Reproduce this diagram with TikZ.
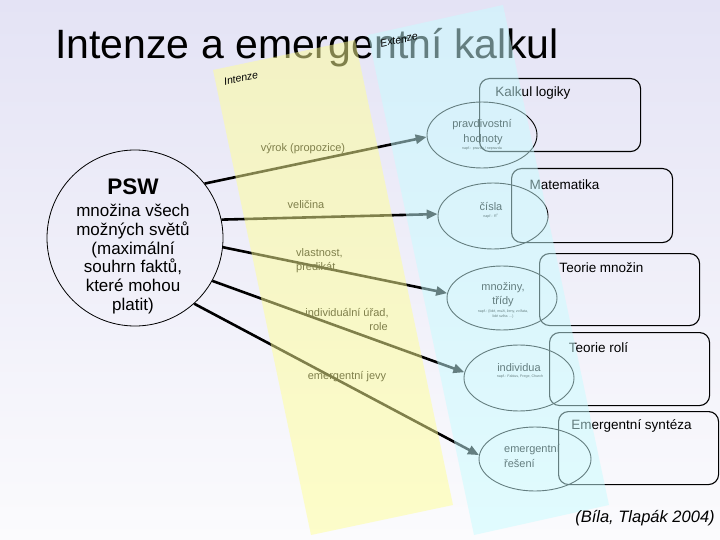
\documentclass[tikz,border=0pt]{standalone}
\usepackage{fontspec}
\setmainfont{Liberation Sans}
\usetikzlibrary{arrows.meta,shapes.geometric}
\definecolor{bgtop}{RGB}{228,227,245}
\definecolor{bgbot}{RGB}{251,251,253}
\definecolor{bandY}{RGB}{255,255,150}
\definecolor{bandC}{RGB}{200,252,255}
\begin{document}
\begin{tikzpicture}[x=1pt,y=-1pt,
  boxn/.style={draw=black, line width=1.1pt, rounded corners=10pt, anchor=north west, inner sep=0pt},
  ell/.style={ellipse, draw=black, line width=0.9pt, inner sep=0pt},
  arr/.style={line width=2.6pt, -{Triangle[length=11pt,width=9pt]}},
  lab/.style={font=\fontsize{11}{13}\selectfont, inner sep=0pt},
  elab/.style={font=\fontsize{11}{13}\selectfont, inner sep=0pt},
  tiny/.style={font=\fontsize{3.6}{4.2}\selectfont, inner sep=0pt, align=center},
  blab/.style={font=\fontsize{13.5}{15}\selectfont, inner sep=0pt},
  band/.style={fill opacity=0.5}]
\useasboundingbox (0,0) rectangle (720,540);
\shade[top color=bgtop, bottom color=bgbot] (0,0) rectangle (720,540);

% title
\node[anchor=base west, inner sep=0pt] (title) at (55,59) {\fontsize{41}{45}\selectfont Intenze a emergentní kalkul};

% PSW circle
\node[circle, draw=black, line width=0.8pt, minimum size=176pt, inner sep=0pt] (psw) at (135,238) {};
\node[font=\fontsize{22.5}{24}\selectfont\bfseries, inner sep=0pt] (pswt) at (133,187) {PSW};
\node[align=center, font=\fontsize{17}{18.8}\selectfont, inner sep=0pt] (pswtxt) at (133,259) {množina všech\\možných světů\\(maximální\\souhrn faktů,\\které mohou\\platit)};

% boxes
\node[boxn, minimum width=161pt, minimum height=73pt] (b1) at (479,78) {};
\node[boxn, minimum width=161pt, minimum height=74pt] (b2) at (511,168) {};
\node[boxn, minimum width=160pt, minimum height=72pt] (b3) at (539,253) {};
\node[boxn, minimum width=160pt, minimum height=73pt] (b4) at (549,332) {};
\node[boxn, minimum width=160pt, minimum height=73pt] (b5) at (558,411) {};
\node[blab] (b1t) at (533,93) {Kalkul logiky};
\node[blab] (b2t) at (564.5,185) {Matematika};
\node[blab] (b3t) at (601.5,268) {Teorie množin};
\node[blab] (b4t) at (598.5,348) {Teorie rolí};
\node[blab] (b5t) at (631.5,426) {Emergentní syntéza};

% ellipses
\node[ell, minimum width=110pt, minimum height=66pt] (e1) at (482,135) {};
\node[ell, minimum width=110pt, minimum height=66pt] (e2) at (493,216) {};
\node[ell, minimum width=110pt, minimum height=64pt] (e3) at (502,298) {};
\node[ell, minimum width=110pt, minimum height=66pt] (e4) at (519,378) {};
\node[ell, minimum width=112pt, minimum height=64pt] (e5) at (535,459) {};

\node[elab] (e1a) at (482,125) {pravdivostní};
\node[elab] (e1b) at (483,140) {hodnoty};
\node[tiny] (e1c) at (482,149) {např.: pravda / nepravda};
\node[elab] (e2a) at (491,207) {čísla};
\node[tiny] (e2b) at (491,216) {např.: R\textsuperscript{n}};
\node[elab] (e3a) at (503,288) {množiny,};
\node[elab] (e3b) at (503,302) {třídy};
\node[tiny] (e3c) at (503,314) {např.: \{lidé, muži, ženy, zvířata,\\lidé světa …\}};
\node[elab] (e4a) at (519,368) {individua};
\node[tiny] (e4b) at (520,377) {např.: Fabius, Frege, Church};
\node[elab, anchor=west] (e5a) at (504,450) {emergentní};
\node[elab, anchor=west] (e5b) at (504,464) {řešení};

% connectors
\draw[arr] (psw.38) -- (e1.182);
\draw[arr] (psw.12) -- (e2.178);
\draw[arr] (psw.-6) -- (e3.175);
\draw[arr] (psw.-29) -- (e4.174);
\draw[arr] (psw.-48) -- (e5.176);

% connector labels
\node[lab] (l1) at (303,149) {výrok (propozice)};
\node[lab] (l2) at (306,205) {veličina};
\node[lab, anchor=west] (l3a) at (296,253) {vlastnost,};
\node[lab, anchor=west] (l3b) at (296,268) {predikát};
\node[lab] (l4a) at (347,313) {individuální úřad,};
\node[lab, anchor=east] (l4b) at (388,327) {role};
\node[lab] (l5) at (347,377) {emergentní jevy};

% translucent bands
\fill[bandY, band] (213,70) -- (355,40) -- (453,505) -- (311,535) -- cycle;
\fill[bandC, band] (368,35) -- (503,5) -- (609,505) -- (474,535) -- cycle;

\node[rotate=12, font=\fontsize{10.5}{12}\selectfont\itshape, inner sep=0pt] (int) at (241,78) {Intenze};
\node[rotate=12, font=\fontsize{10.5}{12}\selectfont\itshape, inner sep=0pt] (ext) at (399,40) {Extenze};

\node[font=\fontsize{16.5}{18}\selectfont\itshape, inner sep=0pt] (cit) at (645,518) {(Bíla, Tlapák 2004)};
\end{tikzpicture}
\end{document}
